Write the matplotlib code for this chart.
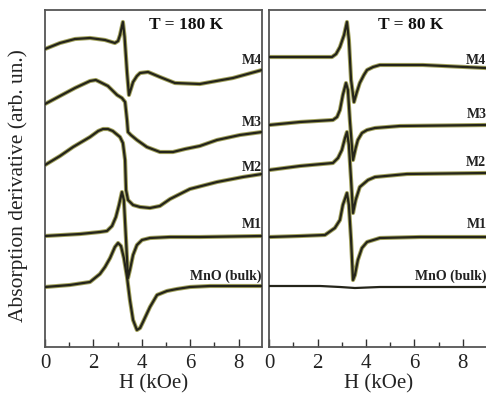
import matplotlib
matplotlib.use("Agg")
import matplotlib.pyplot as plt
from matplotlib.ticker import MultipleLocator

plt.rcParams['font.family'] = ['Liberation Serif', 'DejaVu Serif']

# ---------------- data (H in kOe, signal in arb. units) ----------------
# T = 180 K
m4_180_x = [0, 0.62, 1.24, 1.86, 2.48, 2.89, 3.02, 3.10, 3.22, 3.29, 3.39, 3.47, 3.55, 3.64, 3.80, 3.93, 4.26, 4.75, 5.37, 6.40, 7.77, 8.97]
m4_180_y = [298, 304, 308, 309, 307, 304, 306, 312, 325, 310, 275, 252, 258, 265, 271, 274, 275, 270, 264, 263, 269, 277]

m3_180_x = [0, 0.62, 1.24, 1.86, 2.10, 2.27, 2.60, 2.98, 3.18, 3.31, 3.39, 3.43, 3.55, 3.80, 4.21, 4.75, 5.29, 5.79, 6.40, 7.11, 8.06, 8.97]
m3_180_y = [243, 251, 259, 266, 267, 265, 261, 252, 249, 245, 227, 215, 212, 207, 200, 195, 195, 198, 201, 207, 212, 215]

m2_180_x = [0, 0.62, 1.16, 1.86, 2.20, 2.40, 2.60, 2.80, 3.10, 3.22, 3.31, 3.35, 3.43, 3.64, 3.93, 4.34, 4.75, 5.17, 5.99, 7.11, 8.18, 8.97]
m2_180_y = [182, 191, 200, 210, 216, 218, 218, 216, 210, 204, 187, 157, 147, 142, 140, 139, 141, 148, 158, 165, 170, 173]

m1_180_x = [0, 1.45, 2.27, 2.56, 2.77, 2.93, 3.06, 3.18, 3.26, 3.35, 3.43, 3.51, 3.64, 3.80, 4.01, 4.34, 5.17, 6.40, 8.97]
m1_180_y = [111, 113, 115, 116, 121, 130, 142, 155, 147, 107, 69, 77, 92, 102, 107, 109, 110, 110, 111]

mno_180_x = [0, 1.03, 1.86, 2.27, 2.48, 2.69, 2.89, 3.02, 3.14, 3.26, 3.39, 3.51, 3.64, 3.80, 3.93, 4.05, 4.34, 4.63, 5.04, 5.45, 5.99, 6.82, 8.97]
mno_180_y = [60, 62, 65, 73, 80, 89, 100, 104, 101, 89, 70, 47, 27, 17, 19, 25, 40, 52, 56, 58, 60, 61, 61]

# T = 80 K
m4_80_x = [0, 1.27, 2.59, 2.76, 2.92, 3.09, 3.21, 3.29, 3.38, 3.50, 3.62, 3.74, 3.91, 4.04, 4.29, 4.57, 6.35, 8.96]
m4_80_y = [290, 290, 290, 293, 300, 312, 325, 307, 267, 245, 255, 264, 272, 277, 280, 282, 282, 279]

m3_80_x = [0, 1.27, 2.63, 2.80, 2.92, 3.04, 3.17, 3.25, 3.33, 3.46, 3.57, 3.66, 3.83, 4.04, 4.37, 5.40, 8.96]
m3_80_y = [222, 225, 227, 230, 237, 252, 264, 257, 227, 187, 199, 207, 214, 217, 219, 221, 222]

m2_80_x = [0, 1.27, 2.63, 2.84, 3.00, 3.13, 3.21, 3.29, 3.38, 3.46, 3.57, 3.74, 4.08, 4.37, 5.69, 8.96]
m2_80_y = [177, 181, 184, 189, 197, 209, 215, 202, 167, 134, 147, 160, 167, 170, 173, 174]

m1_80_x = [0, 1.27, 2.30, 2.71, 2.92, 3.04, 3.21, 3.29, 3.38, 3.46, 3.54, 3.66, 3.83, 4.04, 4.57, 6.23, 8.96]
m1_80_y = [110, 111, 112, 119, 127, 142, 154, 142, 107, 67, 72, 87, 99, 105, 109, 110, 110]

mno_80_x = [0, 2.10, 2.92, 3.54, 4.57, 8.96]
mno_80_y = [61, 61, 60, 59, 60, 60]

labels = ["M4", "M3", "M2", "M1", "MnO (bulk)"]
label_y_180 = [287, 224, 179, 122, 71]
label_y_80 = [287, 232, 184, 122, 71]
xticks = [0, 2, 4, 6, 8]

# ---------------- figure ----------------
W, H = 486, 401
fig = plt.figure(figsize=(W / 100, H / 100), dpi=100)

def axrect(x0, x1, y0, y1):
    return [x0 / W, 1 - y1 / H, (x1 - x0) / W, (y1 - y0) / H]

ax1 = fig.add_axes(axrect(45, 262, 10, 347))
ax2 = fig.add_axes(axrect(269.3, 488, 10, 347))

series180 = [(m4_180_x, m4_180_y), (m3_180_x, m3_180_y), (m2_180_x, m2_180_y),
             (m1_180_x, m1_180_y), (mno_180_x, mno_180_y)]
series80 = [(m4_80_x, m4_80_y), (m3_80_x, m3_80_y), (m2_80_x, m2_80_y),
            (m1_80_x, m1_80_y), (mno_80_x, mno_80_y)]

def draw(ax, series, label_y, title, xmax, lab_x):
    for i, (x, y) in enumerate(series):
        if not (ax is ax2 and i == 4):
            ax.plot(x, y, color='#a3a35e', lw=3.0, solid_joinstyle='round', solid_capstyle='round', zorder=2)
        ax.plot(x, y, color='#24241a', lw=1.6, solid_joinstyle='round', solid_capstyle='round', zorder=3)
    for lab, ly in zip(labels, label_y):
        ax.text(lab_x, ly, lab, ha='right', va='center', fontsize=10, fontweight='bold', color='#222222')
    ax.text(5.83, 322, title, ha='center', va='center', fontsize=12.5, fontweight='bold', color='#111111')
    ax.set_xlim(0, xmax)
    ax.set_ylim(0, 337)
    ax.set_yticks([])
    ax.set_xticks(xticks)
    ax.xaxis.set_minor_locator(MultipleLocator(1))
    ax.tick_params(axis='x', which='major', direction='in', length=6, width=1, labelsize=15, pad=5, colors='#333333', labelcolor='#222222')
    ax.tick_params(axis='x', which='minor', direction='in', length=3.5, width=1, colors='#333333')
    for s in ax.spines.values():
        s.set_color('#555555')
        s.set_linewidth(1.3)
    ax.set_xlabel('H (kOe)', fontsize=15, color='#222222', labelpad=1)

draw(ax1, series180, label_y_180, 'T = 180 K', 8.97, 8.95)
draw(ax2, series80, label_y_80, 'T = 80 K', 9.04, 8.97)

fig.text(18 / W, 1 - 186 / H, 'Absorption derivative (arb. un.)', rotation=90,
         ha='center', va='center', fontsize=15.5, color='#222222')

fig.savefig('out.png', dpi=100)
